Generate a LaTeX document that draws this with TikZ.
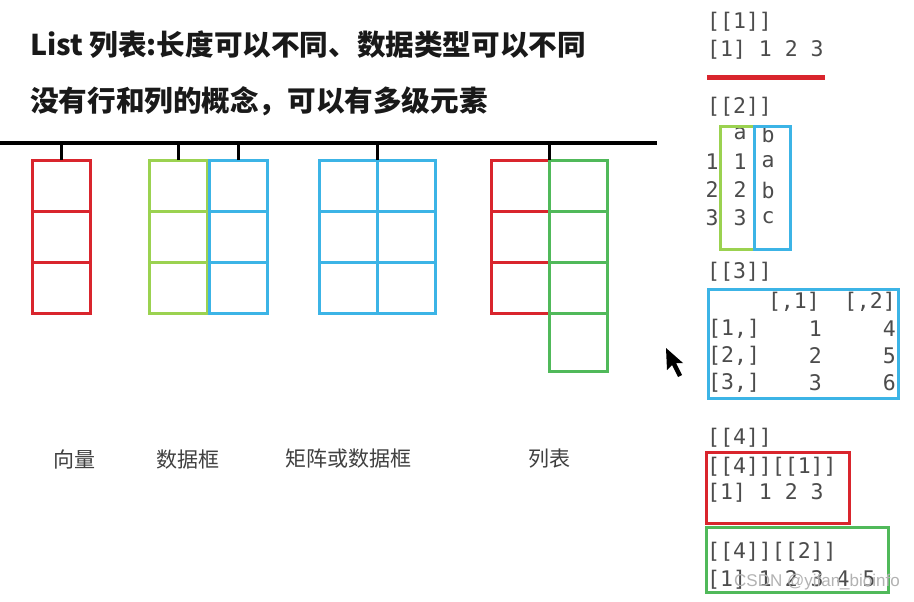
\documentclass[tikz,border=0pt]{standalone}
\usepackage{fontspec}
\setmonofont{DejaVu Sans Mono}
\newfontfamily\cjk{Noto Sans CJK SC}
\newfontfamily\wmfont{Liberation Sans}
\usetikzlibrary{positioning}
\definecolor{vred}{RGB}{217,37,45}
\definecolor{dfgreen}{RGB}{155,210,80}
\definecolor{mblue}{RGB}{60,180,230}
\definecolor{lgreen}{RGB}{80,185,90}

\begin{document}
\begin{tikzpicture}[x=1pt, y=-1pt,
  cell/.style={draw, line width=3pt, outer sep=0pt, inner sep=0pt, minimum width=58pt, minimum height=51pt},
  hang/.style={line width=3pt, black},
  title/.style={anchor=west, inner sep=0pt, font=\cjk\bfseries\fontsize{28.6}{32}\selectfont, text=black!90},
  lab/.style={inner sep=0pt, font=\cjk\fontsize{21}{24}\selectfont, text=black!75},
  rout/.style={anchor=west, inner sep=0pt, font=\ttfamily\fontsize{21.5}{24}\selectfont, text=black!70},
  rtok/.style={inner sep=0pt, font=\ttfamily\fontsize{21.5}{24}\selectfont, text=black!70},
  rbox/.style={line width=3pt}]
            \fill[white] (0,0) rectangle (914,602);
            \useasboundingbox (0,0) rectangle (914,602);
            \node[title] (t1) at (30,45) {List 列表:长度可以不同、数据类型可以不同};
            \node[title] (t2) at (30,101) {没有行和列的概念，可以有多级元素};
            % the bar everything hangs from
            \coordinate (barL) at (0,143);
            \coordinate (barR) at (657,143);
            \draw[line width=4pt] (barL) -- (barR);
            \foreach \i in {1,2,3} {
                \node[cell, draw=vred] (vec\i) at (61,134.5+51*\i) {};
                \node[cell, draw=dfgreen] (dfa\i) at (178,134.5+51*\i) {};
                \node[cell, draw=mblue] (dfb\i) at (238,134.5+51*\i) {};
                \node[cell, draw=mblue] (mxa\i) at (348,134.5+51*\i) {};
                \node[cell, draw=mblue] (mxb\i) at (406,134.5+51*\i) {};
                \node[cell, draw=vred] (lsta\i) at (520,134.5+51*\i) {};
                \node[cell, draw=lgreen] (lstb\i) at (578,134.5+51*\i) {};
            }
            \node[cell, draw=lgreen, minimum height=58pt, below=0pt of lstb3] (lstb4) {};
            \foreach \n in {vec1.north, dfa1.north, dfb1.north, mxa1.north east, lstb1.north west} {
                \draw[hang] (\n) -- (\n |- barL);
            }
            \node[lab] (lvec) at (74,459) {向量};
            \node[lab] (ldf) at (188,460) {数据框};
            \node[lab] (lmx) at (348,459) {矩阵或数据框};
            \node[lab] (llst) at (549,459) {列表};
            % R output on the right
            \node[rout] (o1) at (707,22) {[[1]]};
            \node[rout] (o1v) at (707,50) {[1] 1 2 3};
            \draw[vred, line width=5pt] (707,78) -- (825,78);
            \node[rout] (o2) at (707,107) {[[2]]};
            \node[rtok] (ha) at (740,134) {a};
            \node[rtok] (hb) at (768,134) {b};
            \foreach \r/\y/\c in {1/162/a, 2/190/b, 3/218/c} {
                \node[rtok] (rn\r) at (712,\y) {\r};
                \node[rtok] (ra\r) at (740,\y) {\r};
                \node[rtok] (rb\r) at (768,\y) {\c};
            }
            \draw[rbox, dfgreen] (720,127) rectangle (754,249);
            \draw[rbox, mblue] (754,127) rectangle (790,249);
            \node[rout] (o3) at (707,272) {[[3]]};
            \draw[rbox, mblue] (708,289) rectangle (898,398);
            \node[rtok, anchor=east] (c1) at (820,302) {[,1]};
            \node[rtok, anchor=east] (c2) at (896,302) {[,2]};
            \foreach \r/\y/\v in {1/329/4, 2/356/5, 3/383/6} {
                \node[rout] (m\r) at (708,\y) {[\r,]};
                \node[rtok, anchor=east] (ma\r) at (822,\y) {\r};
                \node[rtok, anchor=east] (mb\r) at (896,\y) {\v};
            }
            \node[rout] (o4) at (707,438) {[[4]]};
            \draw[rbox, vred] (706,452) rectangle (849,523);
            \node[rout] (o41) at (707,467) {[[4]][[1]]};
            \node[rout] (o41v) at (707,493) {[1] 1 2 3};
            \draw[rbox, lgreen] (706,527) rectangle (888,592);
            \node[rout] (o42) at (707,552) {[[4]][[2]]};
            \node[rout] (o42v) at (707,580) {[1] 1 2 3 4 5};
            \node[anchor=east, inner sep=0pt, font=\wmfont\fontsize{17}{20}\selectfont, text=gray!60] (wm) at (900,582) {CSDN @yifan\_bioinfo};
            % mouse pointer
            \fill[black] (666,348) -- (667,370) -- (672,365) -- (678,377) -- (682,375) -- (676,363) -- (683,363) -- cycle;
        \end{tikzpicture}
\end{document}
